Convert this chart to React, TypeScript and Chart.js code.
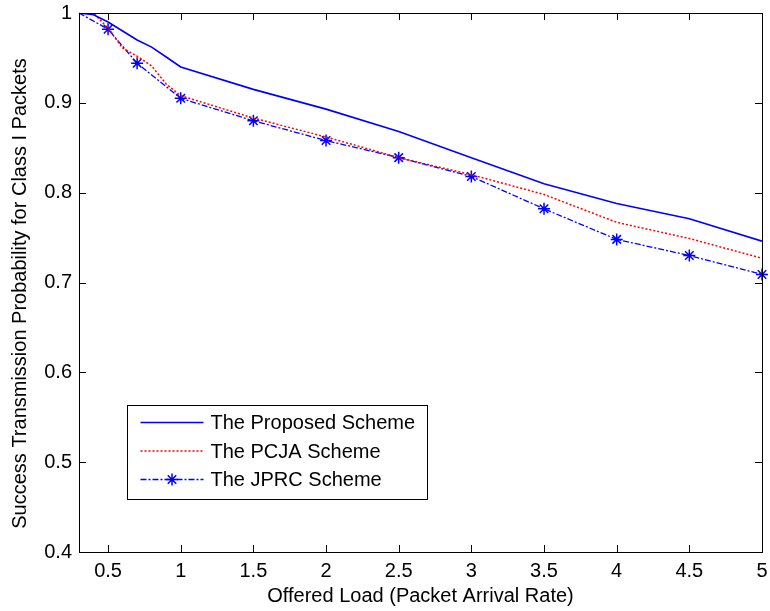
import React, { useEffect, useRef } from "react";
import { Chart, registerables } from "chart.js";

Chart.register(...registerables);

// ---- data ----
const proposedX = [0.3, 0.4, 0.5, 0.6, 0.7, 0.8, 0.9, 1, 1.5, 2, 2.5, 3, 3.5, 4, 4.5, 5];
const proposedY = [1.0, 0.998, 0.99, 0.98, 0.97, 0.962, 0.951, 0.94, 0.915, 0.893, 0.868, 0.839, 0.81, 0.788, 0.771, 0.746];

const pcjaX = [0.3, 0.4, 0.5, 0.6, 0.7, 0.8, 0.9, 1, 1.5, 2, 2.5, 3, 3.5, 4, 4.5, 5];
const pcjaY = [1.0, 1.0, 0.983, 0.961, 0.952, 0.941, 0.921, 0.908, 0.883, 0.862, 0.839, 0.82, 0.798, 0.767, 0.749, 0.727];

const jprcX = [0.3, 0.5, 0.7, 1, 1.5, 2, 2.5, 3, 3.5, 4, 4.5, 5];
const jprcY = [1.0, 0.982, 0.944, 0.905, 0.88, 0.858, 0.839, 0.818, 0.782, 0.748, 0.73, 0.709];

const xTicks = [0.5, 1, 1.5, 2, 2.5, 3, 3.5, 4, 4.5, 5];
const yTicks = [0.4, 0.5, 0.6, 0.7, 0.8, 0.9, 1];

const seriesNames = ["The Proposed Scheme", "The PCJA Scheme", "The JPRC Scheme"];
const xTitle = "Offered Load (Packet Arrival Rate)";
const yTitle = "Success Transmission Probability for Class I Packets";

const FONT = "'Liberation Sans', Arial, Helvetica, sans-serif";
const FS = 20;

const toPts = (xs: number[], ys: number[]) => xs.map((x, i) => ({ x, y: ys[i] }));

const framePlugin = {
  id: "frameAndLegend",
  afterDraw(chart: any) {
    const { ctx, chartArea: a, scales } = chart;
    const xs = scales.x;
    const ys = scales.y;
    ctx.save();
    // frame
    ctx.strokeStyle = "#000";
    ctx.lineWidth = 1;
    ctx.setLineDash([]);
    ctx.strokeRect(Math.round(a.left) + 0.5, Math.round(a.top) + 0.5, Math.round(a.right - a.left), Math.round(a.bottom - a.top));
    // ticks inward
    const TL = 7;
    ctx.beginPath();
    xTicks.forEach((v) => {
      const px = Math.round(xs.getPixelForValue(v)) + 0.5;
      ctx.moveTo(px, a.bottom);
      ctx.lineTo(px, a.bottom - TL);
      ctx.moveTo(px, a.top);
      ctx.lineTo(px, a.top + TL);
    });
    yTicks.forEach((v) => {
      const py = Math.round(ys.getPixelForValue(v)) + 0.5;
      ctx.moveTo(a.left, py);
      ctx.lineTo(a.left + TL, py);
      ctx.moveTo(a.right, py);
      ctx.lineTo(a.right - TL, py);
    });
    ctx.stroke();

    // y title
    ctx.save();
    ctx.fillStyle = "#000";
    ctx.font = `${FS}px ${FONT}`;
    ctx.textAlign = "center";
    ctx.textBaseline = "middle";
    ctx.translate(20, (a.top + a.bottom) / 2 + 11);
    ctx.rotate(-Math.PI / 2);
    ctx.fillText(yTitle, 0, 0);
    ctx.restore();

    // legend
    const bx = Math.round(a.left + 48) + 0.5;
    const by = Math.round(a.bottom - 147) + 0.5;
    const bw = 300;
    const bh = 94;
    ctx.fillStyle = "#fff";
    ctx.fillRect(bx, by, bw, bh);
    ctx.strokeStyle = "#000";
    ctx.lineWidth = 1;
    ctx.strokeRect(bx, by, bw, bh);
    ctx.font = `${FS}px ${FONT}`;
    ctx.textBaseline = "middle";
    ctx.textAlign = "left";
    chart.data.datasets.forEach((ds: any, i: number) => {
      const ry = by + 17 + i * 28.5;
      const lx0 = bx + 13;
      const lx1 = bx + 76;
      ctx.save();
      ctx.strokeStyle = ds.borderColor;
      ctx.lineWidth = ds.borderWidth;
      ctx.setLineDash(ds.borderDash || []);
      ctx.beginPath();
      ctx.moveTo(lx0, ry);
      ctx.lineTo(lx1, ry);
      ctx.stroke();
      ctx.restore();
      if (ds.pointStyle === "star") {
        const cx = (lx0 + lx1) / 2;
        const r = 6;
        ctx.save();
        ctx.strokeStyle = ds.borderColor;
        ctx.lineWidth = 1.5;
        ctx.setLineDash([]);
        ctx.beginPath();
        for (let k = 0; k < 4; k++) {
          const ang = (k * Math.PI) / 4;
          ctx.moveTo(cx - r * Math.cos(ang), ry - r * Math.sin(ang));
          ctx.lineTo(cx + r * Math.cos(ang), ry + r * Math.sin(ang));
        }
        ctx.stroke();
        ctx.restore();
      }
      ctx.fillStyle = "#000";
      ctx.fillText(ds.label, bx + 83, ry + 1);
    });
    ctx.restore();
  },
};

export default function App() {
  const ref = useRef<HTMLCanvasElement | null>(null);
  useEffect(() => {
    if (!ref.current) return;
    const chart = new Chart(ref.current, {
      type: "line",
      data: {
        datasets: [
          {
            label: seriesNames[0],
            data: toPts(proposedX, proposedY),
            borderColor: "#0000ff",
            borderWidth: 1.6,
            pointRadius: 0,
            fill: false,
          },
          {
            label: seriesNames[1],
            data: toPts(pcjaX, pcjaY),
            borderColor: "#ff0000",
            borderWidth: 1.5,
            borderDash: [2, 2],
            pointRadius: 0,
            fill: false,
          },
          {
            label: seriesNames[2],
            data: toPts(jprcX, jprcY),
            borderColor: "#0000ff",
            backgroundColor: "#0000ff",
            borderWidth: 1.3,
            borderDash: [6, 2, 2, 2],
            pointStyle: "star",
            pointRadius: jprcX.map((_, i) => (i === 0 ? 0 : 6)),
            pointBorderWidth: 1.5,
            pointBorderColor: "#0000ff",
            clip: false as any,
            fill: false,
          },
        ],
      },
      options: {
        animation: false,
        responsive: false,
        devicePixelRatio: 1,
        layout: { padding: { left: 0, right: 8, top: 13, bottom: 0 } },
        plugins: { legend: { display: false }, tooltip: { enabled: false } },
        scales: {
          x: {
            type: "linear",
            min: 0.3,
            max: 5,
            grid: { display: false, drawTicks: false, tickLength: 0 },
            border: { display: false },
            afterBuildTicks: (s: any) => {
              s.ticks = xTicks.map((v) => ({ value: v }));
            },
            ticks: {
              color: "#000",
              font: { family: FONT, size: FS },
              padding: 7,
              maxRotation: 0,
              autoSkip: false,
              callback: (v: any) => String(v),
            },
            title: {
              display: true,
              text: xTitle,
              color: "#000",
              font: { family: FONT, size: FS },
              padding: { top: 0, bottom: 3 },
            },
            afterFit: (s: any) => {
              s.height = 59;
              s.paddingLeft = 0;
              s.paddingRight = 0;
            },
          },
          y: {
            type: "linear",
            min: 0.4,
            max: 1,
            grid: { display: false, drawTicks: false, tickLength: 0 },
            border: { display: false },
            afterBuildTicks: (s: any) => {
              s.ticks = yTicks.map((v) => ({ value: v }));
            },
            ticks: {
              color: "#000",
              font: { family: FONT, size: FS },
              padding: 7,
              autoSkip: false,
              callback: (v: any) => String(Math.round(v * 10) / 10),
            },
            afterFit: (s: any) => {
              s.width = 79;
              s.paddingTop = 0;
              s.paddingBottom = 0;
            },
          },
        },
      },
      plugins: [framePlugin],
    });
    return () => chart.destroy();
  }, []);
  return (
    <div style={{ position: "absolute", left: 0, top: 0, width: 770, height: 611, background: "#fff" }}>
      <canvas ref={ref} width={770} height={611} />
    </div>
  );
}
